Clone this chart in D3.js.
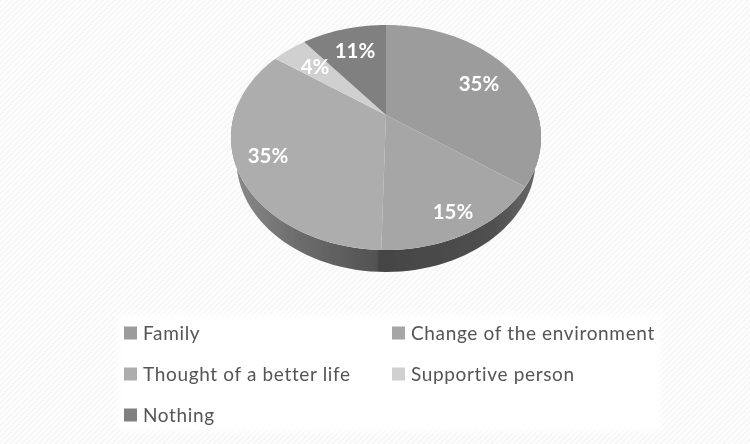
<!DOCTYPE html>
<html><head><meta charset="utf-8">
<script src="https://cdn.jsdelivr.net/npm/d3@7/dist/d3.min.js"></script>
<style>html,body{margin:0;padding:0;background:#fff}svg{display:block}</style>
</head><body><svg id="c" width="750" height="444"></svg>
<script>
const categories = ["Family","Change of the environment","Thought of a better life","Supportive person","Nothing"];
const values = [35, 15.4, 34.5, 4.4, 10.7];
const colors = ["#9c9c9c","#a6a6a6","#adadad","#d0d0d0","#808080"];
const labelAnchors = [[479,84],[453,212],[268,156],[315,67],[355,51]];

const svg = d3.select("#c");
const defs = svg.append("defs");
const pat = defs.append("pattern").attr("id","hatch").attr("width",4).attr("height",4)
  .attr("patternUnits","userSpaceOnUse").attr("patternTransform","rotate(45)");
pat.append("rect").attr("width",4).attr("height",4).attr("fill","#fefefe");
pat.append("rect").attr("width",2).attr("height",4).attr("fill","#f6f6f6");
const blur = defs.append("filter").attr("id","soft");
blur.append("feGaussianBlur").attr("stdDeviation",0.45);
const blurPanel = defs.append("filter").attr("id","panel").attr("x","-5%").attr("y","-10%").attr("width","110%").attr("height","120%");
blurPanel.append("feGaussianBlur").attr("stdDeviation",3);

const sideGrad = defs.append("linearGradient").attr("id","side").attr("gradientUnits","userSpaceOnUse")
  .attr("x1",232).attr("x2",541).attr("y1",0).attr("y2",0);
[[0,"#8a8a8a"],[0.2,"#6e6e6e"],[0.47,"#525252"],[0.475,"#444"],[0.85,"#505050"],[1,"#6a6a6a"]]
  .forEach(([o,c])=>sideGrad.append("stop").attr("offset",o).attr("stop-color",c));

svg.append("rect").attr("width",750).attr("height",444).attr("fill","url(#hatch)");
svg.append("rect").attr("x",118).attr("y",314).attr("width",543).attr("height",117).attr("fill","#fff").attr("filter","url(#panel)");

// perspective projection of the pie plane
const cx = 386, cy = 115, B = 151.9, A = 108, k = 0.2;
const project = (t, dy = 0, s = 1) => {
  const u = Math.sin(t), v = -Math.cos(t), d = 1 - k * v;
  return [cx + s * B * u / d, cy + dy + A * v / d];
};
const pie = d3.pie().sort(null).value(d => d);
const arcs = pie(values);
const line = d3.line();
const sweep = (a, b, dy, s) => d3.range(0, 81).map(i => project(a + (b - a) * i / 80, dy, s));
const g = svg.append("g").attr("filter","url(#soft)");

// side wall
const depth = 22, shrink = 0.965;
const sa = Math.PI * 0.5, sb = Math.PI * 1.5;
g.append("path").attr("fill","url(#side)")
  .attr("d", line(sweep(sa - 0.1, sb + 0.1, 0, 1).concat(sweep(sa - 0.1, sb + 0.1, depth, shrink).reverse())) + "Z");

// top faces
g.selectAll("path.slice").data(arcs).join("path").attr("class","slice")
  .attr("fill",(d,i)=>colors[i])
  .attr("d",d=>line([[cx,cy]].concat(sweep(d.startAngle,d.endAngle,0,1)))+"Z");

// percent labels
const total = d3.sum(values);
g.selectAll("text.pct").data(arcs).join("text").attr("class","pct")
  .attr("x",(d,i)=>labelAnchors[i][0]).attr("y",(d,i)=>labelAnchors[i][1]+7)
  .attr("text-anchor","middle").attr("fill","#fff")
  .attr("font-family","Lato, 'Open Sans', sans-serif").attr("font-weight",700).attr("font-size",20.5)
  .text(d=>Math.round(d.data/total*100)+"%");

// legend
const col = d3.scalePoint().domain([0,1]).range([124,392]);
const row = d3.scalePoint().domain([0,1,2]).range([333,415]);
const lg = g.selectAll("g.lg").data(categories).join("g").attr("class","lg")
  .attr("transform",(d,i)=>`translate(${col(i%2)},${row(Math.floor(i/2))})`);
lg.append("rect").attr("x",0).attr("y",-6.5).attr("width",13).attr("height",13).attr("fill",(d,i)=>colors[i]);
lg.append("text").attr("x",19).attr("y",7).attr("fill","#555")
  .attr("font-family","Lato, 'Open Sans', sans-serif").attr("font-size",19).attr("letter-spacing",0.65).text(d=>d);
</script></body></html>
